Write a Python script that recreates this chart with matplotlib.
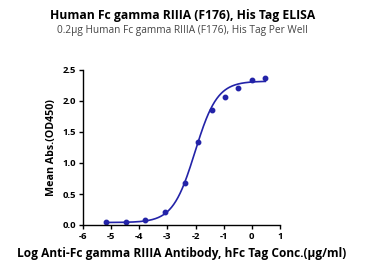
import numpy as np
import matplotlib
matplotlib.use("Agg")
import matplotlib.pyplot as plt

plt.rcParams['font.family'] = ['Open Sans', 'DejaVu Sans']

# measured points (log conc, mean OD450)
log_conc = [-5.181, -4.482, -3.783, -3.084, -2.385, -1.908, -1.431, -0.954, -0.477, 0.0, 0.477]
od450 = [0.05, 0.05, 0.08, 0.21, 0.68, 1.34, 1.85, 2.07, 2.21, 2.34, 2.37]

# 4PL fit parameters
bottom, top, logec50, hill = 0.04, 2.32, -2.02, 1.1

x_ticks = [-6, -5, -4, -3, -2, -1, 0, 1]
y_ticks = [0.0, 0.5, 1.0, 1.5, 2.0, 2.5]

blue = '#2323a8'

fig = plt.figure(figsize=(3.65, 2.71), dpi=100)
ax = fig.add_axes([83/365, 46/271, 197/365, 155/271])

xs = np.linspace(min(log_conc), max(log_conc), 300)
ys = bottom + (top - bottom) / (1 + 10 ** ((logec50 - xs) * hill))
ax.plot(xs, ys, color=blue, lw=1.2)
ax.plot(log_conc, od450, 'o', color=blue, ms=3.2)

ax.set_xlim(-6, 1)
ax.set_ylim(0, 2.5)
ax.set_xticks(x_ticks)
ax.set_xticklabels([str(t) for t in x_ticks])
ax.set_yticks(y_ticks)
ax.set_yticklabels(['%.1f' % t for t in y_ticks])
for s in ['top', 'right']:
    ax.spines[s].set_visible(False)
for s in ['left', 'bottom']:
    ax.spines[s].set_linewidth(1.0)
ax.tick_params(direction='out', length=3, width=1.0, labelsize=6.8, pad=2)
for lab in ax.get_xticklabels() + ax.get_yticklabels():
    lab.set_fontweight('bold')

ax.set_ylabel('Mean Abs.(OD450)', fontsize=7.7, fontweight='bold', labelpad=4)
ax.set_xlabel('Log Anti-Fc gamma RIIIA Antibody, hFc Tag Conc.(\u03bcg/ml)',
              fontsize=8.6, fontweight='bold', labelpad=4)

fig.text(0.5, 1 - 15/271, 'Human Fc gamma RIIIA (F176), His Tag ELISA',
         ha='center', va='center', fontsize=8.7, fontweight='bold')
fig.text(0.5, 1 - 31/271, '0.2\u03bcg Human Fc gamma RIIIA (F176), His Tag Per Well',
         ha='center', va='center', fontsize=7.3, color='#444444')

fig.savefig('out.png', dpi=100)
